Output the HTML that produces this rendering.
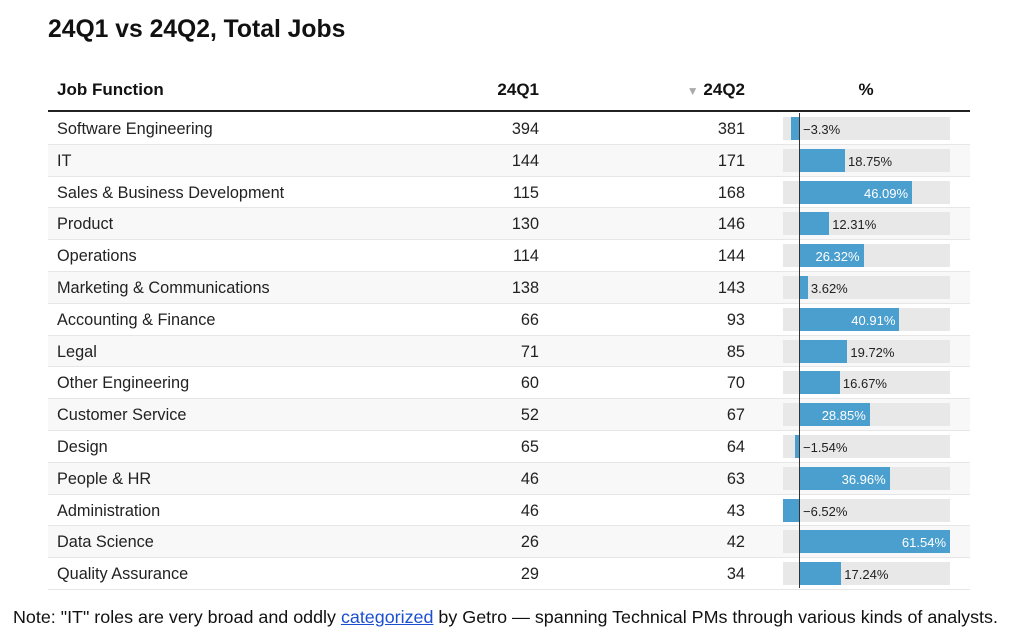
<!DOCTYPE html>
<html><head><meta charset="utf-8"><style>
body{margin:0;width:1012px;height:634px;background:#fff;font-family:"Liberation Sans",sans-serif;color:#222;position:relative;overflow:hidden}
h1{position:absolute;left:48px;top:16px;margin:0;font-size:24.7px;font-weight:bold;color:#111}
.hd{position:absolute;top:80px;font-size:17px;font-weight:bold;color:#111}
.line{position:absolute;left:48px;top:110px;width:922px;height:2px;background:#222}
.row{position:absolute;left:48px;width:922px;height:31.8px;border-bottom:1px solid #e6e6e6;box-sizing:border-box;font-size:16.3px}
.row.alt{background:#f8f8f8}
.row span{position:absolute;top:7px}
.n{text-align:right;width:80px}
.track{position:absolute;left:735px;top:4px;width:167px;height:23px;background:#e8e8e8}
.bar{position:absolute;top:4px;height:23px;background:#4a9fcf}
.lb{position:absolute;top:9px!important;font-size:13px}
.zero{position:absolute;left:799px;top:113px;width:1px;height:475px;background:#333}
.note{position:absolute;left:13px;top:607px;font-size:17.9px;color:#111;white-space:nowrap}
.note a{color:#1a4fd0;text-decoration:underline}
</style></head><body>
<h1>24Q1 vs 24Q2, Total Jobs</h1>
<div class="hd" style="left:57px">Job Function</div>
<div class="hd" style="left:459px;width:80px;text-align:right">24Q1</div>
<div class="hd" style="left:665px;width:80px;text-align:right"><span style="color:#aaa;font-size:12px;font-weight:normal">▼</span> 24Q2</div>
<div class="hd" style="left:836px;width:60px;text-align:center">%</div>
<div class="line"></div>
<div id="rows"></div>
<div class="zero"></div>
<div class="note">Note: "IT" roles are very broad and oddly <a>categorized</a> by Getro — spanning Technical PMs through various kinds of analysts.</div>
<script>
var d=[["Software Engineering",394,381,-3.3,"−3.3%"],["IT",144,171,18.75,"18.75%"],["Sales & Business Development",115,168,46.09,"46.09%"],["Product",130,146,12.31,"12.31%"],["Operations",114,144,26.32,"26.32%"],["Marketing & Communications",138,143,3.62,"3.62%"],["Accounting & Finance",66,93,40.91,"40.91%"],["Legal",71,85,19.72,"19.72%"],["Other Engineering",60,70,16.67,"16.67%"],["Customer Service",52,67,28.85,"28.85%"],["Design",65,64,-1.54,"−1.54%"],["People & HR",46,63,36.96,"36.96%"],["Administration",46,43,-6.52,"−6.52%"],["Data Science",26,42,61.54,"61.54%"],["Quality Assurance",29,34,17.24,"17.24%"]];
var h="",s=151/61.54;
d.forEach(function(r,i){
var top=113+i*31.8,z=751,w=Math.abs(r[3])*s,bl=r[3]<0?z-w:z,lab;
if(r[3]>=25){lab='<span class="lb" style="left:'+(z)+'px;width:'+(w-4)+'px;text-align:right;color:#fff">'+r[4]+'</span>';}
else{var lx=r[3]<0?z+4:z+w+3;lab='<span class="lb" style="left:'+lx+'px;color:#222">'+r[4]+'</span>';}
h+='<div class="row'+(i%2?' alt':'')+'" style="top:'+top+'px"><span style="left:9px">'+r[0].replace("&","&amp;")+'</span><span class="n" style="left:411px">'+r[1]+'</span><span class="n" style="left:617px">'+r[2]+'</span><div class="track"></div><div class="bar" style="left:'+bl+'px;width:'+w+'px"></div>'+lab+'</div>';
});
document.getElementById("rows").innerHTML=h;
</script>
</body></html>
